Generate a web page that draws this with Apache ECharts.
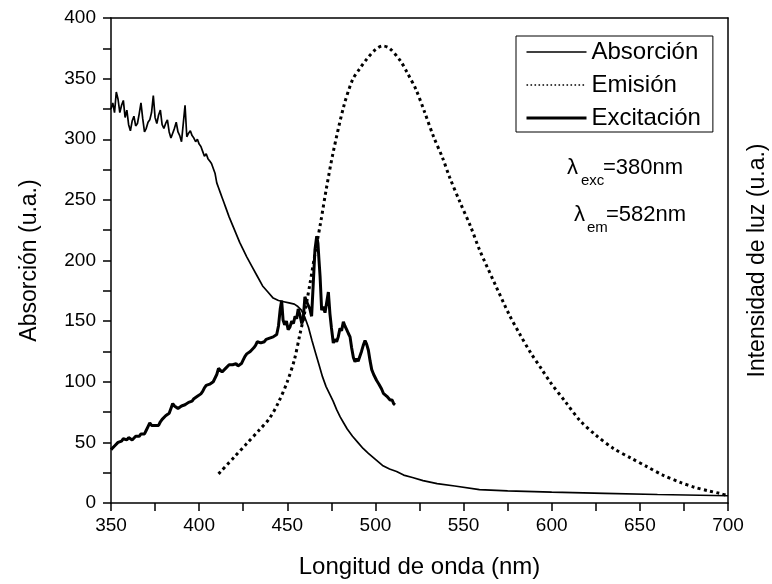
<!DOCTYPE html>
<html>
<head>
<meta charset="utf-8">
<script src="https://cdn.jsdelivr.net/npm/echarts@6/dist/echarts.min.js"></script>
<style>html,body{margin:0;padding:0;background:#fff}#c{width:772px;height:584px}</style>
</head>
<body>
<div id="c"></div>
<script>
var FONT = '"Liberation Sans", Arial, sans-serif';

var xTicks = [350, 400, 450, 500, 550, 600, 650, 700];
var yTicks = [0, 50, 100, 150, 200, 250, 300, 350, 400];

var absorcionX = [350,351,352,353,354,355,356,357,358,359,360,361,362,363,364,365,366,367,368,369,370,371,372,373,374,375,376,377,378,379,380,381,382,383,384,385,386,387,388,389,390,391,392,393,394,395,396,397,398,399,400,401,402,403,404,405,406,407,408,409,410,411,412,413,414,415,417,419,421,423,425,427,430,433,436,439,442,445,448,451,454,456,458,460,462,464,466,468,470,472,474,476,478,480,482,484,487,490,493,496,500,504,508,512,516,521,527,535,545,559,575,600,630,660,700];
var absorcionY = [325,330,322,339,333,322,328,332,318,324,312,307,315,319,311,313,321,330,317,306,309,314,316,322,336,318,313,320,324,312,309,313,316,306,301,305,309,314,306,303,298,297,328,302,305,307,303,301,298,300,296,294,290,286,288,284,282,280,279,272,264,260,256,252,248,244,236,229,222,215,209,203,195,187,179,174,169,167,166,165,164,162,159,153,145,134,124,114,104,96,90,84,77,71,66,61,55,50,45,41,36,31,28,26,23,21,18.5,16,14,11,10,9,8,7,6];

var emisionX = [411,420,427,434,440,445,450,454,457,460,463,466,469,472,476,482,487,491,495,500,504,508,514,518,523,528,533,538,542,548,554,559,568,576,582,588,594,599,608,616,625,635,645,654,663,673,681,689,695,700];
var emisionY = [24,38,49,60,70,83,100,118,138,158,182,208,232,258,289,327,349,358,366,374,377,375,365,355,341,322,302,285,269,248,228,209,180,155,139,124,111,100,83,68,56,45,37,30,23,17,13,10,8,6];

var excitacionX = [350,351,352,353,354,355,356,357,358,359,360,361,362,363,364,365,366,367,368,369,370,371,372,373,374,375,376,377,378,379,380,381,382,383,384,385,386,387,388,389,390,391,392,393,394,395,396,397,398,399,400,401,402,403,404,405,406,407,408,409,410,411,412,413,414,415,416,417,418,419,420,421,422,423,424,425,426,427,428,429,430,431,432,433,434,435,436,437,438,439,440,441,442,443,444,445,446,446.8,447.6,448.5,449.5,450.5,451.5,452.5,453.5,454.4,455.3,456.2,457.2,458.2,459,460,461,461.9,462.8,463.8,464.7,465.7,466.7,467.4,468,468.6,469.5,470.4,471.4,472.3,473.3,474.2,475,476.1,477,478,478.9,479.9,480.8,481.8,482.7,483.7,484.6,485.6,486.5,487.5,488.4,489.3,490.2,491.2,492.1,493.1,494.1,495,496,497,497.9,499,500.7,502,503.5,504.5,505.5,506.5,507.5,508.3,509.5,510.3,511.1];
var excitacionY = [44,45,47,48,50,49,51,53,54,52,54,53,52,53,55,56,55,57,58,57,60,63,66,64,63,64,63,64,67,69,70,72,73,74,78,82,80,79,78,79,80,81,81,82,83,84,84,86,87,88,89,90,92,95,97,97,98,99,100,101,106,111,110,108,109,111,112,114,113,114,115,115,113,112,115,118,121,123,124,125,126,128,130,133,134,132,131,133,135,136,136,137,137,138,139,146,160,167,151,147,150,143,145,150,148,154,152,160,155,148,151,170,166,167,160,154,180,209,220,214,200,187,159,162,157,165,174,156,145,132,135,133,137,144,142,149.5,146,143,140,137,128,120,116.5,119,117,118,125,130,134,131,126,117,110,106,101,98,94,90.5,91,88,87,85,85,82,81];

var seriesNames = ['Absorción', 'Emisión', 'Excitación'];
var yAxisTitle = 'Absorción (u.a.)';
var yAxisRightTitle = 'Intensidad de luz (u.a.)';
var xAxisTitle = 'Longitud de onda (nm)';

function zip(xs, ys) { return xs.map(function (x, i) { return [x, ys[i]]; }); }

var chart = echarts.init(document.getElementById('c'), null, { renderer: 'canvas' });

var axisLineStyle = { color: '#000', width: 1.5 };

var option = {
  backgroundColor: '#fff',
  animation: false,
  textStyle: { fontFamily: FONT, color: '#000' },
  grid: { left: 111, right: 44, top: 18, bottom: 81, show: false, containLabel: false, outerBoundsMode: 'none' },
  legend: {
    orient: 'vertical',
    left: 516, top: 36,
    data: [
      { name: seriesNames[0], lineStyle: { width: 1.6, color: '#000' } },
      { name: seriesNames[1], lineStyle: { width: 1.6, color: '#000', type: [1.6, 2.4] } },
      { name: seriesNames[2], lineStyle: { width: 3, color: '#000' } }
    ],
    itemWidth: 60, itemHeight: 22, itemGap: 9,
    padding: [4, 12, 2, 9],
    borderColor: '#000', borderWidth: 1,
    itemStyle: { opacity: 0 },
    textStyle: { fontFamily: FONT, fontSize: 24, color: '#000' }
  },
  xAxis: [{
    type: 'value', min: 350, max: 700, interval: 50, position: 'bottom',
    name: xAxisTitle, nameLocation: 'middle', nameGap: 52,
    nameTextStyle: { fontFamily: FONT, fontSize: 24, color: '#000' },
    axisLine: { show: true, onZero: false, lineStyle: axisLineStyle },
    axisTick: { show: true, length: 8, inside: false, lineStyle: axisLineStyle },
    minorTick: { show: true, splitNumber: 2, length: 8, lineStyle: axisLineStyle },
    axisLabel: { fontFamily: FONT, fontSize: 19, color: '#000', margin: 13,
      formatter: function (v) { return xTicks.indexOf(v) >= 0 ? String(v) : ''; } },
    splitLine: { show: false }
  }, {
    type: 'value', min: 350, max: 700, interval: 50, position: 'top',
    axisLine: { show: true, onZero: false, lineStyle: axisLineStyle },
    axisTick: { show: false }, axisLabel: { show: false }, splitLine: { show: false }
  }],
  yAxis: [{
    type: 'value', min: 0, max: 400, interval: 50, position: 'left',
    name: yAxisTitle, nameLocation: 'middle', nameGap: 70, nameRotate: 90,
    nameTextStyle: { fontFamily: FONT, fontSize: 23, color: '#000' },
    axisLine: { show: true, onZero: false, lineStyle: axisLineStyle },
    axisTick: { show: true, length: 8, inside: false, lineStyle: axisLineStyle },
    minorTick: { show: true, splitNumber: 2, length: 8, lineStyle: axisLineStyle },
    axisLabel: { fontFamily: FONT, fontSize: 19, color: '#000', margin: 15,
      formatter: function (v) { return yTicks.indexOf(v) >= 0 ? String(v) : ''; } },
    splitLine: { show: false }
  }, {
    type: 'value', min: 0, max: 400, interval: 50, position: 'right',
    name: yAxisRightTitle, nameLocation: 'middle', nameGap: 18, nameRotate: 90,
    nameTextStyle: { fontFamily: FONT, fontSize: 23, color: '#000', verticalAlign: 'top' },
    axisLine: { show: true, onZero: false, lineStyle: axisLineStyle },
    axisTick: { show: false }, axisLabel: { show: false }, splitLine: { show: false }
  }],
  series: [{
    name: seriesNames[0], type: 'line', xAxisIndex: 0, yAxisIndex: 0,
    data: zip(absorcionX, absorcionY), symbol: 'none', showSymbol: false,
    lineStyle: { color: '#000', width: 1.7 }, itemStyle: { color: '#000' }, z: 3
  }, {
    name: seriesNames[1], type: 'line', xAxisIndex: 0, yAxisIndex: 1,
    data: zip(emisionX, emisionY), symbol: 'none', showSymbol: false, smooth: 0.3,
    lineStyle: { color: '#000', width: 3, type: [3, 3.4] }, itemStyle: { color: '#000' }, z: 2
  }, {
    name: seriesNames[2], type: 'line', xAxisIndex: 0, yAxisIndex: 0,
    data: zip(excitacionX, excitacionY), symbol: 'none', showSymbol: false,
    lineStyle: { color: '#000', width: 3 }, itemStyle: { color: '#000' }, z: 4
  }],
  graphic: [
    { type: 'text', left: 567, top: 157, style: { text: 'λ', font: '22px ' + FONT, fill: '#000' } },
    { type: 'text', left: 581, top: 173, style: { text: 'exc', font: '15px ' + FONT, fill: '#000' } },
    { type: 'text', left: 603, top: 157, style: { text: '=380nm', font: '22px ' + FONT, fill: '#000' } },
    { type: 'text', left: 574, top: 204, style: { text: 'λ', font: '22px ' + FONT, fill: '#000' } },
    { type: 'text', left: 587, top: 220, style: { text: 'em', font: '15px ' + FONT, fill: '#000' } },
    { type: 'text', left: 606, top: 204, style: { text: '=582nm', font: '22px ' + FONT, fill: '#000' } }
  ]
};
chart.setOption(option);
</script>
</body>
</html>
